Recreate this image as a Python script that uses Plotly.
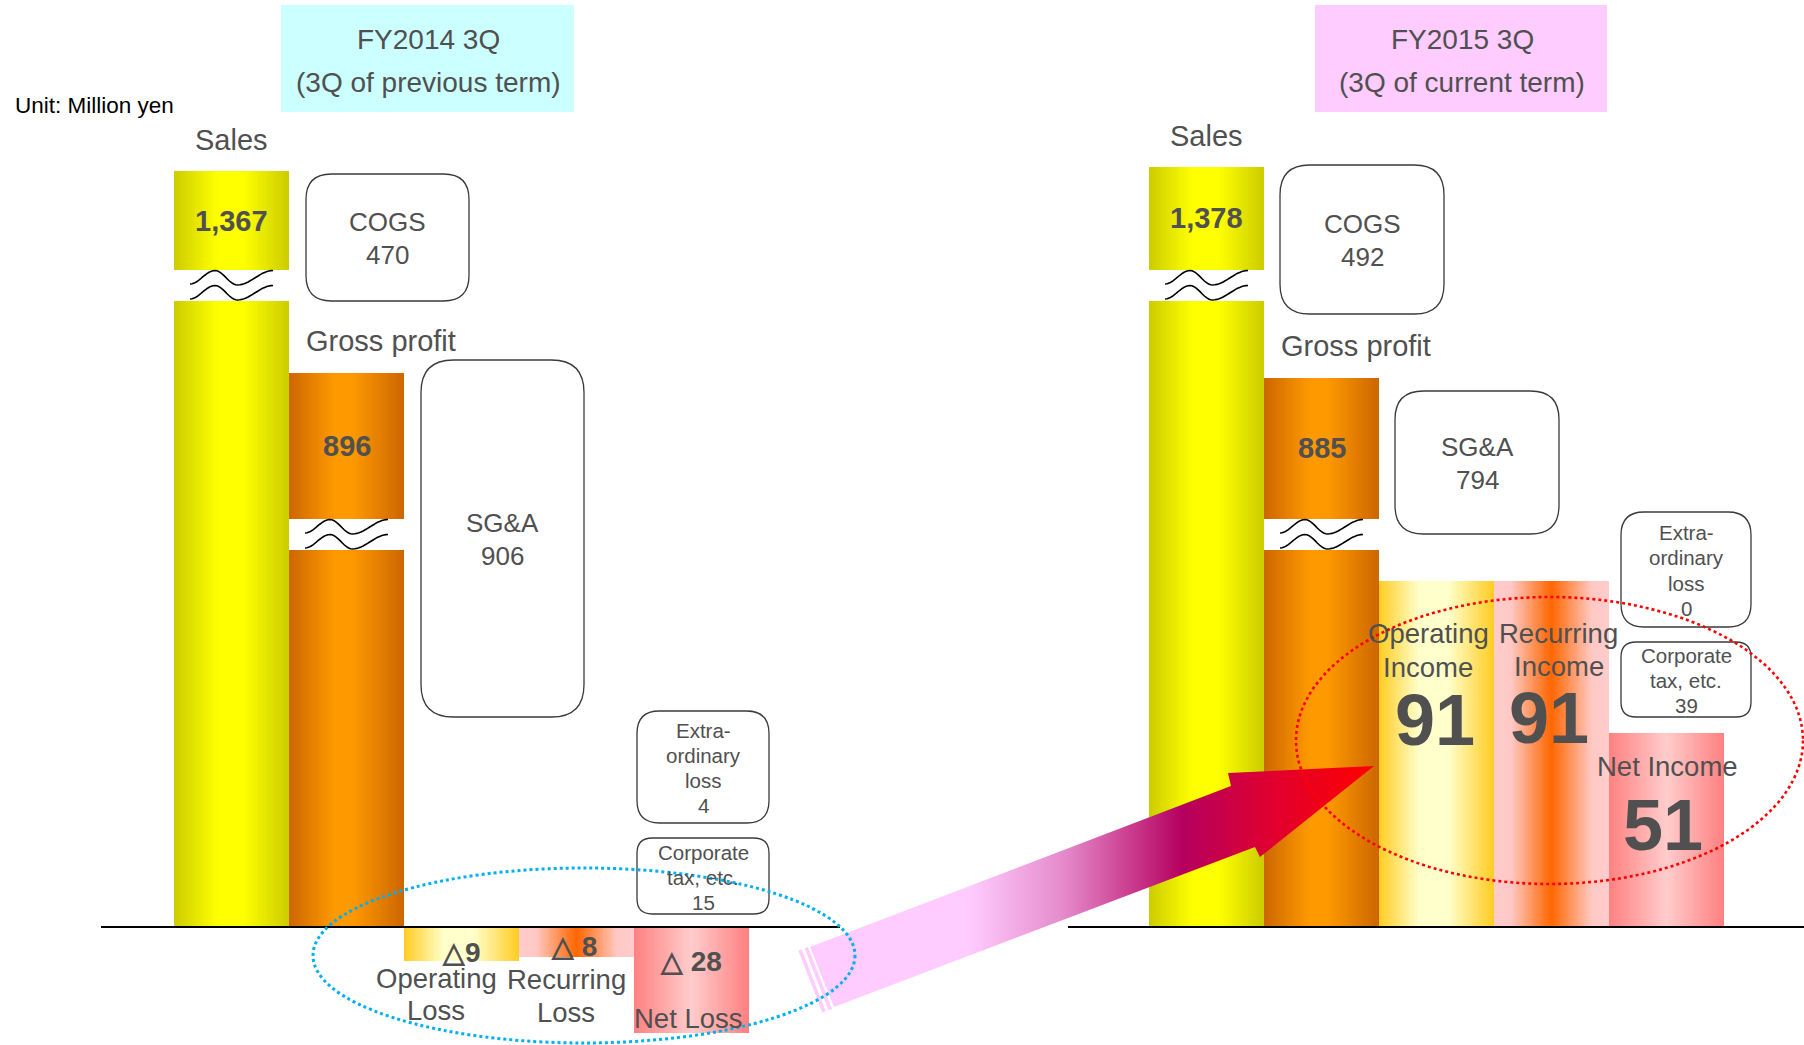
import math
import plotly.graph_objects as go

# ---- figures in million yen (negative = loss) ----
periods = ["FY2014 3Q", "FY2015 3Q"]
period_notes = ["(3Q of previous term)", "(3Q of current term)"]
sales = [1367, 1378]
cogs = [470, 492]
gross_profit = [896, 885]
sga = [906, 794]
operating_income = [-9, 91]
recurring_income = [-8, 91]
extraordinary_loss = [4, 0]
corporate_tax = [15, 39]
net_income = [-28, 51]

# ---- canvas geometry ----
W, H = 1804, 1045
BASE = 927            # pixel row of the zero line
PX = 3.8              # pixels per million yen on the unbroken part of the scale
BAR_W = 115
GROUP_X0 = [174, 1149]
FONT = "Liberation Sans, Arial, sans-serif"
TXT = "#505050"


def broken(v):
    """Compressed scale used for the tall (broken) sales / gross-profit bars."""
    return 44.8 + 0.1127 * v


def to_px(u):
    return BASE - u * PX


def hex2rgb(h):
    h = h.lstrip("#")
    return tuple(int(h[i:i + 2], 16) for i in (0, 2, 4))


def interp(cs, t):
    for (t0, c0), (t1, c1) in zip(cs[:-1], cs[1:]):
        if t0 <= t <= t1:
            f = 0 if t1 == t0 else (t - t0) / (t1 - t0)
            a, b = hex2rgb(c0), hex2rgb(c1)
            return "rgb(%d,%d,%d)" % tuple(round(a[k] + (b[k] - a[k]) * f) for k in range(3))
    return cs[-1][1]


SALES_CS = [(0, "#CCCC00"), (0.38, "#FFFF00"), (0.6, "#FFFF00"), (1, "#CCCC00")]
GP_CS = [(0, "#CC6600"), (0.4, "#FF9900"), (0.55, "#FF9900"), (1, "#CC6600")]
OP_CS = [(0, "#FFCC22"), (0.35, "#FFFFCC"), (0.6, "#FFFFCC"), (1, "#FFCC22")]
REC_CS = [(0, "#FFCCCC"), (0.15, "#FFC8C4"), (0.5, "#FF6600"), (0.85, "#FFC8C4"), (1, "#FFCCCC")]
NET_CS = [(0, "#FF8080"), (0.5, "#FFCCCC"), (1, "#FF8080")]

fig = go.Figure()


def grad_bar(x_left, value, cs, n=64):
    sw = BAR_W / n
    xs = [x_left + (i + 0.5) * sw for i in range(n)]
    cols = [interp(cs, (i + 0.5) / n) for i in range(n)]
    fig.add_trace(go.Bar(x=xs, y=[value] * n, width=[sw * 1.15] * n,
                         marker=dict(color=cols, line=dict(width=0)),
                         hoverinfo="skip", showlegend=False))


shapes = []
annotations = []


def label(x, y, text, size, bold=False, color=TXT, xanchor="center"):
    annotations.append(dict(x=x, y=y, xref="x", yref="y2", showarrow=False,
                            text=f"<b>{text}</b>" if bold else text,
                            font=dict(family=FONT, size=size, color=color),
                            xanchor=xanchor, yanchor="middle"))


def lines_block(xc, yc, lines, size, spacing):
    n = len(lines)
    for k, s in enumerate(lines):
        label(xc, yc + (k - (n - 1) / 2) * spacing, s, size)


def rrect(x0, y0, x1, y1, r):
    return (f"M{x0 + r},{y0} L{x1 - r},{y0} Q{x1},{y0} {x1},{y0 + r} "
            f"L{x1},{y1 - r} Q{x1},{y1} {x1 - r},{y1} L{x0 + r},{y1} "
            f"Q{x0},{y1} {x0},{y1 - r} L{x0},{y0 + r} Q{x0},{y0} {x0 + r},{y0} Z")


def box(x0, y0, x1, y1, lines, size, spacing):
    r = 0.2 * min(x1 - x0, y1 - y0)
    shapes.append(dict(type="path", path=rrect(x0, y0, x1, y1, r), xref="x", yref="y2",
                       fillcolor="white", line=dict(color="#3a3a3a", width=1.3), layer="above"))
    lines_block((x0 + x1) / 2, (y0 + y1) / 2 + 1, lines, size, spacing)


def wave(xl, xr, ytop):
    kt = [0, 0.3, 0.57, 1]
    ky = [14, 0.5, 15, 0.5]
    for off in (0, 15):
        pts = []
        for i in range(41):
            t = i / 40
            for j in range(3):
                if kt[j] <= t <= kt[j + 1]:
                    f = (t - kt[j]) / (kt[j + 1] - kt[j])
                    f = (1 - math.cos(math.pi * f)) / 2
                    y = ky[j] + (ky[j + 1] - ky[j]) * f
                    break
            pts.append((xl + (xr - xl) * t, ytop + off + y))
        path = "M" + " L".join(f"{x:.1f},{y:.1f}" for x, y in pts)
        shapes.append(dict(type="path", path=path, xref="x", yref="y2",
                           line=dict(color="black", width=1.6), layer="above"))


BREAKS = [(270, 301), (519, 550)]   # pixel rows of the sales / gross-profit breaks

for g in range(2):
    x0 = GROUP_X0[g]
    slot = [x0 + BAR_W * k for k in range(5)]

    s_u, gp_u = broken(sales[g]), broken(gross_profit[g])
    grad_bar(slot[0], s_u, SALES_CS)
    grad_bar(slot[1], gp_u, GP_CS)
    grad_bar(slot[2], operating_income[g], OP_CS)
    grad_bar(slot[3], recurring_income[g], REC_CS)
    grad_bar(slot[4], net_income[g], NET_CS)

    # axis breaks on the tall bars
    for k, (bt, bb) in zip((0, 1), BREAKS):
        shapes.append(dict(type="rect", x0=slot[k], x1=slot[k] + BAR_W, y0=bt, y1=bb,
                           xref="x", yref="y2", fillcolor="white", line=dict(width=0),
                           layer="above"))
        wave(slot[k] + 16, slot[k] + 99, bt)

    s_top, gp_top = to_px(s_u), to_px(gp_u)
    label(slot[0] + BAR_W / 2, s_top - 31, "Sales", 29)
    label(slot[0] + BAR_W / 2, (s_top + BREAKS[0][0]) / 2, f"{sales[g]:,}", 29, bold=True)
    label(slot[1] + BAR_W / 2 + 34, gp_top - 32, "Gross profit", 29)
    label(slot[1] + BAR_W / 2, (gp_top + BREAKS[1][0]) / 2, f"{gross_profit[g]:,}", 29, bold=True)

# header panels
HEAD = [(281, 574, "#CCFFFF"), (1315, 1607, "#FFCCFF")]
for g, (hx0, hx1, col) in enumerate(HEAD):
    shapes.append(dict(type="rect", x0=hx0, x1=hx1, y0=5, y1=112, xref="x", yref="y2",
                       fillcolor=col, line=dict(width=0), layer="below"))
    label((hx0 + hx1) / 2 + 1, 39, periods[g], 28)
    label((hx0 + hx1) / 2 + 1, 82, period_notes[g], 28)

label(13, 105, "Unit: Million yen", 22.5, color="black", xanchor="left")

# cost / deduction boxes
box(306, 174, 469, 301, ["COGS", f"{cogs[0]}"], 26, 32.5)
box(1280, 165, 1444, 314, ["COGS", f"{cogs[1]}"], 26, 32.5)
box(421, 360, 584, 717, ["SG&A", f"{sga[0]}"], 26, 33)
box(1395, 391, 1559, 534, ["SG&A", f"{sga[1]}"], 26, 33)
box(637, 711, 769, 823, ["Extra-", "ordinary", "loss", f"{extraordinary_loss[0]}"], 20.5, 25.3)
box(1621, 512, 1751, 627, ["Extra-", "ordinary", "loss", f"{extraordinary_loss[1]}"], 20.5, 25.3)
box(637, 838, 769, 914, ["Corporate", "tax, etc.", f"{corporate_tax[0]}"], 20.5, 25)
box(1621, 642, 1751, 717, ["Corporate", "tax, etc.", f"{corporate_tax[1]}"], 20.5, 25)

# zero lines
shapes.append(dict(type="line", x0=101, x1=840, y0=BASE, y1=BASE, xref="x", yref="y2",
                   line=dict(color="black", width=2), layer="above"))
shapes.append(dict(type="line", x0=1068, x1=W, y0=BASE, y1=BASE, xref="x", yref="y2",
                   line=dict(color="black", width=2), layer="above"))

# previous-term loss labels
label(461, 952, f"△{abs(operating_income[0])}", 28, bold=True)
label(574, 946, f"△ {abs(recurring_income[0])}", 28, bold=True)
label(691, 961, f"△ {abs(net_income[0])}", 28, bold=True)
lines_block(436, 994, ["Operating", "Loss"], 27.5, 32)
lines_block(566, 995.5, ["Recurring", "Loss"], 27.5, 33)
label(688, 1018, "Net Loss", 27.5)

# current-term profit labels
lines_block(1428, 650.5, ["Operating", "Income"], 27.5, 34)
label(1435, 720, f"{operating_income[1]}", 72, bold=True)
lines_block(1558.5, 649.5, ["Recurring", "Income"], 27.5, 33)
label(1549, 718, f"{recurring_income[1]}", 72, bold=True)
label(1667, 766, "Net Income", 27.5)
label(1663, 825, f"{net_income[1]}", 72, bold=True)

# improvement arrow (pink -> crimson -> red)
ARROW_CS = [[0, "#FFCCFF"], [0.28, "#FFCCFF"], [0.45, "#E58ACB"], [0.66, "#B5005F"],
            [0.82, "#E0002E"], [1, "#FF0000"]]
ax = [810, 1231, 1228, 1374, 1260, 1255, 834, 810]
ay = [947, 786, 773, 766, 857, 847, 1007, 947]
fig.add_trace(go.Scatter(x=ax, y=ay, yaxis="y2", mode="lines", fill="toself",
                         line=dict(width=0, color="rgba(0,0,0,0)"),
                         fillgradient=dict(type="horizontal", colorscale=ARROW_CS),
                         hoverinfo="skip", showlegend=False))
for sx in (798.3, 804.6):
    sxs = [sx, sx + 3.4, sx + 3.4 + 24, sx + 24, sx]
    sys_ = [950.6 - (sx - 798.3) * 0.38, 949.3 - (sx - 798.3) * 0.38,
            1011.3 - (sx - 798.3) * 0.38, 1012.6 - (sx - 798.3) * 0.38,
            950.6 - (sx - 798.3) * 0.38]
    fig.add_trace(go.Scatter(x=sxs, y=sys_, yaxis="y2", mode="lines", fill="toself",
                             fillcolor="#FFCCFF", line=dict(width=0, color="rgba(0,0,0,0)"),
                             hoverinfo="skip", showlegend=False))

# highlight ellipses
shapes.append(dict(type="circle", x0=313, x1=855, y0=868, y1=1043, xref="x", yref="y2",
                   line=dict(color="#00B0F0", width=3, dash="dot"), layer="above"))
shapes.append(dict(type="circle", x0=1296, x1=1803, y0=597, y1=884, xref="x", yref="y2",
                   line=dict(color="#FF0000", width=2.6, dash="dot"), layer="above"))

fig.update_layout(
    width=W, height=H, margin=dict(l=0, r=0, t=0, b=0),
    paper_bgcolor="white", plot_bgcolor="white",
    barmode="overlay", bargap=0, showlegend=False,
    xaxis=dict(range=[0, W], visible=False, fixedrange=True),
    yaxis=dict(range=[-(H - BASE) / PX, BASE / PX], visible=False, fixedrange=True),
    yaxis2=dict(range=[H, 0], overlaying="y", visible=False, fixedrange=True),
    shapes=shapes, annotations=annotations,
)

fig.write_html("out.html", config={"displayModeBar": False})
